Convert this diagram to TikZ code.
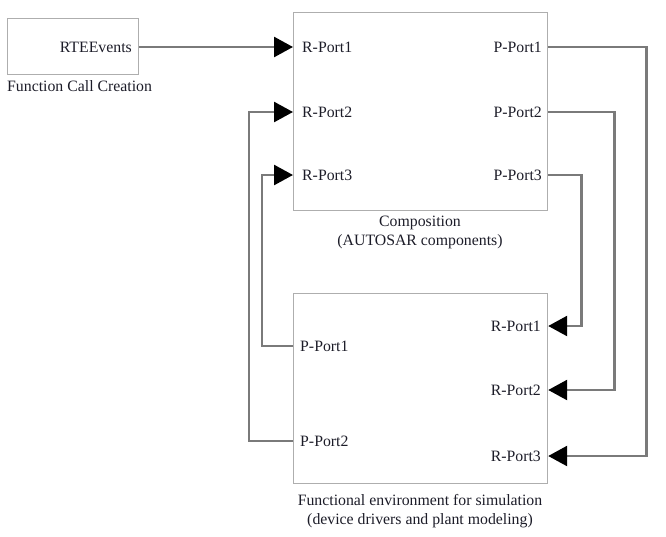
\documentclass[tikz,border=0pt]{standalone}
\usepackage{fontspec}
\setmainfont{Liberation Serif}
\usetikzlibrary{arrows.meta}
\definecolor{boxgray}{HTML}{AEAEAE}
\definecolor{wiregray}{HTML}{7A7A7A}
\definecolor{txt}{HTML}{1C1C28}
\begin{document}
\begin{tikzpicture}[x=1pt,y=-1pt,
  box/.style={draw=boxgray,line width=1.2pt,inner sep=0pt,anchor=north west},
  lbl/.style={font=\fontsize{15.8}{19}\selectfont,inner sep=0pt,text=txt},
  wire/.style={draw=wiregray,line width=2.6pt},
  arr/.style={-{Triangle[length=19pt,width=20pt,color=black]}}]
\useasboundingbox (0,0) rectangle (666,536);
% boxes
\node[box,minimum width=131pt,minimum height=56pt] (rte) at (7,18) {};
\node[box,minimum width=254pt,minimum height=198pt] (comp) at (293,12) {};
\node[box,minimum width=254pt,minimum height=190pt] (env) at (293,293) {};
% labels
\node[lbl,anchor=east] (rteev) at (132,47) {RTEEvents};
\node[lbl,anchor=west] (fcc) at (7,86) {Function Call Creation};
\node[lbl,anchor=west] (cr1) at (302,47) {R-Port1};
\node[lbl,anchor=west] (cr2) at (302,112) {R-Port2};
\node[lbl,anchor=west] (cr3) at (302,175) {R-Port3};
\node[lbl,anchor=east] (cp1) at (542,47) {P-Port1};
\node[lbl,anchor=east] (cp2) at (542,112) {P-Port2};
\node[lbl,anchor=east] (cp3) at (542,175) {P-Port3};
\node[lbl,align=center] (compcap) at (420,232) {Composition\\(AUTOSAR components)};
\node[lbl,anchor=west] (ep1) at (300,346) {P-Port1};
\node[lbl,anchor=west] (ep2) at (300,441) {P-Port2};
\node[lbl,anchor=east] (er1) at (541,326) {R-Port1};
\node[lbl,anchor=east] (er2) at (541,390) {R-Port2};
\node[lbl,anchor=east] (er3) at (541,456) {R-Port3};
\node[lbl,align=center] (envcap) at (420,511) {Functional environment for simulation\\(device drivers and plant modeling)};
% connectors
\draw[wire,arr] (rte.east |- rteev) -- (comp.west |- cr1);
\draw[wire,arr] (env.west |- ep2) -- ++(-44,0) |- (comp.west |- cr2);
\draw[wire,arr] (env.west |- ep1) -- ++(-31,0) |- (comp.west |- cr3);
\draw[wire,arr] (comp.east |- cp1) -- ++(98,0) |- (env.east |- er3);
\draw[wire,arr] (comp.east |- cp2) -- ++(66,0) |- (env.east |- er2);
\draw[wire,arr] (comp.east |- cp3) -- ++(33,0) |- (env.east |- er1);
\end{tikzpicture}
\end{document}
